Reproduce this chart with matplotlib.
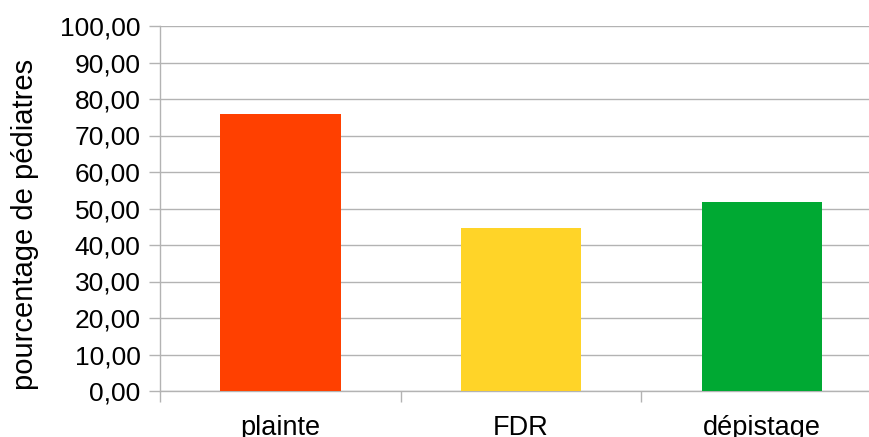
import matplotlib
matplotlib.use("Agg")
import matplotlib.pyplot as plt
from matplotlib.ticker import FuncFormatter, MultipleLocator

categories = ["plainte", "FDR", "dépistage"]
valeurs = [75.9, 44.7, 51.8]
couleurs = ["#FF4000", "#FFD428", "#00A933"]

GRIS = "#b3b3b3"

plt.rcParams["font.family"] = ["Liberation Sans", "DejaVu Sans"]

fig = plt.figure(figsize=(8.69, 4.37), dpi=100)
# zone de tracé un peu plus large que la figure, comme l'export d'origine
ax = fig.add_axes([160 / 869, 46 / 437, 722 / 869, 365 / 437])

positions = list(range(len(categories)))
ax.bar(positions, valeurs, width=0.5, color=couleurs, zorder=3)

ax.set_xlim(-0.5, len(categories) - 0.5)
ax.set_ylim(0, 100)

# axe Y : graduations tous les 10, format français
ax.yaxis.set_major_locator(MultipleLocator(10))
ax.yaxis.set_major_formatter(FuncFormatter(lambda v, _: f"{v:.2f}".replace(".", ",")))
ax.grid(axis="y", color=GRIS, linewidth=1.0, zorder=0)

# axe X : traits aux limites des catégories, libellés au centre
ax.set_xticks([p - 0.5 for p in positions] + [positions[-1] + 0.5])
ax.set_xticklabels([])
ax.set_xticks(positions, minor=True)
ax.set_xticklabels(categories, minor=True)

ax.tick_params(axis="both", which="major", direction="out", length=8,
               width=1.0, color=GRIS, labelsize=19, labelcolor="black")
ax.tick_params(axis="y", pad=6)
ax.tick_params(axis="x", which="minor", length=0, pad=17.5, labelsize=19.5)

for cote in ["top", "right"]:
    ax.spines[cote].set_visible(False)
for cote in ["left", "bottom"]:
    ax.spines[cote].set_color(GRIS)
    ax.spines[cote].set_linewidth(1.0)

ax.set_ylabel("pourcentage de pédiatres", fontsize=21, va="center")
ax.yaxis.set_label_coords(-0.187, 0.455)

fig.savefig("out.png", dpi=100)
